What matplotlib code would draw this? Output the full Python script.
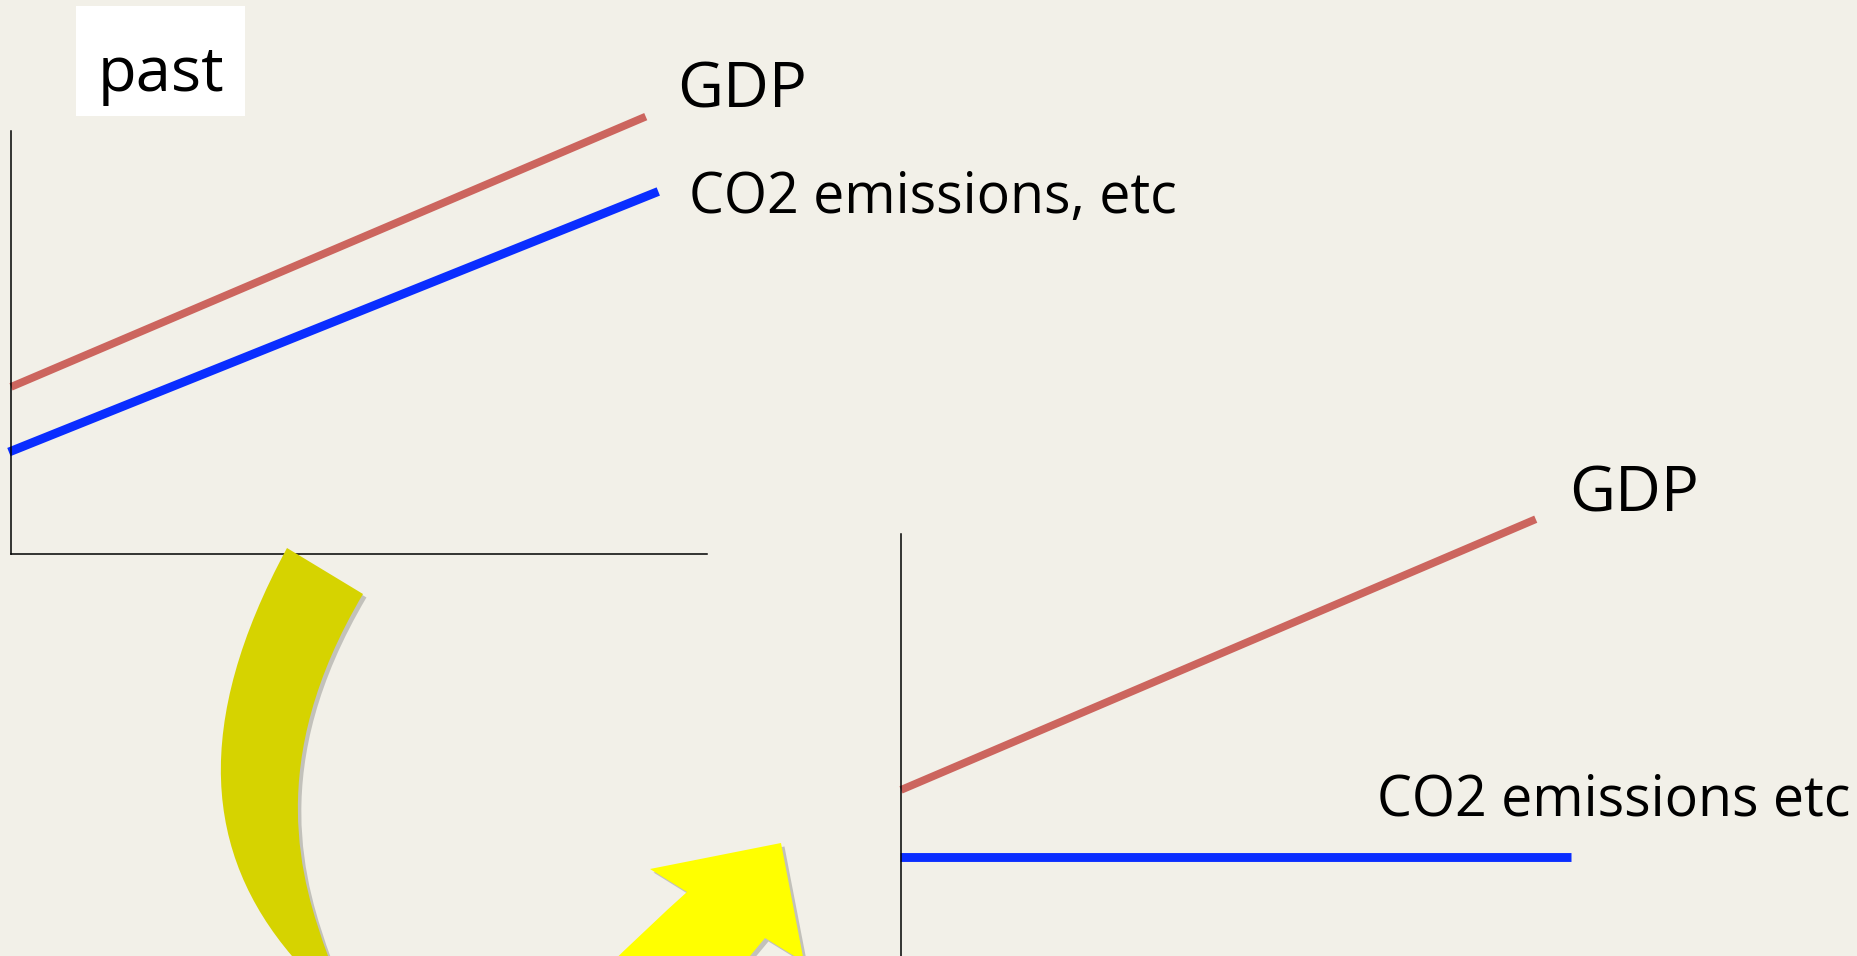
import numpy as np
import matplotlib
matplotlib.use('Agg')
import matplotlib.pyplot as plt
from matplotlib.path import Path
from matplotlib.patches import PathPatch, Rectangle
import matplotlib.patheffects as pe

# ---------------- data ----------------
x_gdp_past = [0.0, 91.2]
gdp_past = [39.5, 103.4]
x_co2_past = [-0.3, 93.0]
co2_past = [24.1, 85.7]

x_gdp_now = [0.0, 91.2]
gdp_now = [39.5, 103.5]
x_co2_now = [-0.15, 96.3]
co2_now = [23.6, 23.6]

title_past = "past"
label_gdp = "GDP"
label_co2_past = "CO2 emissions, etc"
label_co2_now = "CO2 emissions etc"

# ---------------- style ----------------
W, H = 1858, 956
BG = '#F2F0E8'
RED = '#CC655E'
BLUE = '#0A2DFF'
OLIVE = '#D6D300'
YELLOW = '#FFFF00'
FONT = ['Open Sans', 'DejaVu Sans']

fig = plt.figure(figsize=(W / 100, H / 100), dpi=100, facecolor=BG)


def px_axes(left, top, right, bottom):
    return fig.add_axes([left / W, 1 - bottom / H, (right - left) / W, (bottom - top) / H])


def style_axes(ax, show_bottom=True):
    ax.set_xlim(0, 100)
    ax.set_ylim(0, 100)
    ax.patch.set_alpha(0)
    for s in ['top', 'right']:
        ax.spines[s].set_visible(False)
    ax.spines['bottom'].set_visible(show_bottom)
    for s in ['left', 'bottom']:
        ax.spines[s].set_linewidth(1.1)
        ax.spines[s].set_color('black')
    ax.set_xticks([])
    ax.set_yticks([])


# top chart ("past")
ax1 = px_axes(11, 131, 707, 554)
style_axes(ax1)
ax1.plot(x_gdp_past, gdp_past, color=RED, lw=5.6, solid_capstyle='butt', clip_on=False)
ax1.plot(x_co2_past, co2_past, color=BLUE, lw=6.4, solid_capstyle='butt', clip_on=False)

# bottom chart (now)
ax2 = px_axes(901, 534, 1597, 957)
style_axes(ax2, show_bottom=False)
ax2.plot(x_gdp_now, gdp_now, color=RED, lw=5.6, solid_capstyle='butt', clip_on=False)
ax2.plot(x_co2_now, co2_now, color=BLUE, lw=6.4, solid_capstyle='butt', clip_on=False)

# overlay in pixel coordinates for decoration and text
ov = fig.add_axes([0, 0, 1, 1])
ov.set_xlim(0, W)
ov.set_ylim(H, 0)
ov.axis('off')
ov.patch.set_alpha(0)

# "past" white box
ov.add_patch(Rectangle((76, 6), 169, 110, facecolor='white', edgecolor='none', zorder=1))
ov.text(161, 91, title_past, fontsize=45.5, family=FONT, ha='center', va='baseline', zorder=2)

ov.text(677, 107, label_gdp, fontsize=45.5, family=FONT, ha='left', va='baseline')
ov.text(689, 213, label_co2_past, fontsize=40, family=FONT, ha='left', va='baseline')
ov.text(1569, 511, label_gdp, fontsize=45.5, family=FONT, ha='left', va='baseline')
ov.text(1377, 815, label_co2_now, fontsize=40, family=FONT, ha='left', va='baseline')

shadow = [pe.SimplePatchShadow(offset=(2.5, -2.5), shadow_rgbFace='#555555', alpha=0.3), pe.Normal()]

# olive curved band (tail of a curved arrow)
band_verts = [
    (287, 548),
    (191.4, 725), (205, 854), (292, 956),
    (309, 976),
    (335, 976),
    (328, 956),
    (301, 881.5), (263, 763), (363, 594),
    (287, 548),
]
band_codes = [Path.MOVETO,
              Path.CURVE4, Path.CURVE4, Path.CURVE4,
              Path.LINETO, Path.LINETO, Path.LINETO,
              Path.CURVE4, Path.CURVE4, Path.CURVE4,
              Path.CLOSEPOLY]
ov.add_patch(PathPatch(Path(band_verts, band_codes), facecolor=OLIVE, edgecolor='none',
                       zorder=3, path_effects=shadow))

# bright yellow arrow head
head_verts = [
    (598, 976),
    (650, 925), (687, 892),
    (650, 869),
    (781, 843),
    (804, 962),
    (765, 938),
    (750, 956),
    (737, 976),
    (598, 976),
]
head_codes = [Path.MOVETO,
              Path.CURVE3, Path.CURVE3,
              Path.LINETO, Path.LINETO, Path.LINETO, Path.LINETO, Path.LINETO, Path.LINETO,
              Path.CLOSEPOLY]
ov.add_patch(PathPatch(Path(head_verts, head_codes), facecolor=YELLOW, edgecolor='none',
                       zorder=3, path_effects=shadow))

fig.savefig('out.png', dpi=100, facecolor=BG)
